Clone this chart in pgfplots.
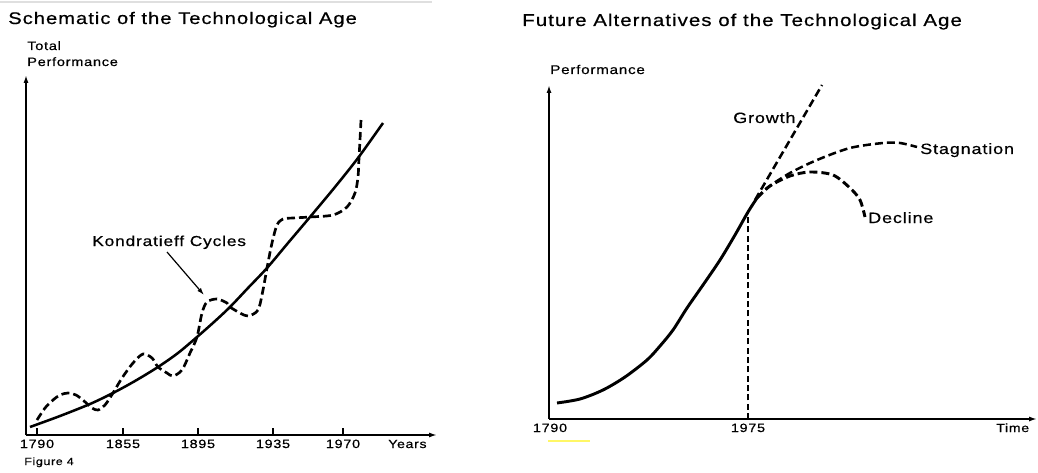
\documentclass[border=0pt]{standalone}
\usepackage{fontspec}
\setmainfont{Liberation Sans}[FakeStretch=1.2,LetterSpace=6,FakeBold=0.6]
\usepackage{pgfplots}
\pgfplotsset{compat=1.18}
\usetikzlibrary{arrows.meta}

\begin{document}
\begin{tikzpicture}
% ---------------- Left panel ----------------
\begin{axis}[
  at={(19.5pt,27.75pt)}, anchor=south west,
  scale only axis, width=308.25pt, height=270pt,
  xmin=26, xmax=437, ymin=0, ymax=360,
  axis lines*=left,
  axis line style={line width=1.5pt, -{Latex[length=6pt,width=3.8pt]}},
  xtick={37,123,198,273,343}, xticklabels={1790,1855,1895,1935,1970},
  ytick=\empty,
  tick align=inside, major tick length=5.5pt,
  xtick style={line width=1.3pt, black},
  xticklabel style={anchor=base, yshift=-9.75pt, inner sep=0pt, font=\fontsize{9pt}{10pt}\selectfont},
  clip=false,
]
% trend (solid)
\addplot[black, line width=1.9pt, smooth] coordinates {
 (30,8) (60,19) (90,31) (113,42) (135,54) (158,68) (178,82) (197,98)
 (214,113) (230,128) (248,147) (267,167) (288,192) (310,218) (335,248)
 (358,277) (383,312)};
% Kondratieff cycles (dashed)
\addplot[black, line width=2pt, dash pattern=on 6pt off 3pt, smooth, tension=0.5] coordinates {
 (37,15) (45,27) (53,35) (60,40) (68,42) (76,40) (84,34) (92,27) (98,25)
 (105,30) (113,42) (122,57) (133,72) (143,81) (152,77) (158,68) (167,62)
 (173,59) (182,65) (190,82) (197,98) (202,122) (207,133) (217,136)
 (227,132) (230,128) (240,122) (248,119) (258,125) (263,145) (267,167)
 (272,192) (277,210) (283,216) (293,217) (310,218) (333,220) (347,228)
 (355,242) (358,258) (359,277) (360,295) (361,315)};
\draw[line width=0.9pt, -{Latex[length=5.5pt,width=3.5pt]}] (axis cs:167,183) -- (axis cs:204,140);
\end{axis}

% ---------------- Right panel ----------------
\begin{axis}[
  at={(411.75pt,39.75pt)}, anchor=south west,
  scale only axis, width=366pt, height=250.5pt,
  xmin=549, xmax=1037, ymin=0, ymax=334,
  axis lines*=left,
  axis line style={line width=1.5pt, -{Latex[length=6pt,width=3.8pt]}},
  xtick={550,748}, xticklabels={1790,1975},
  ytick=\empty,
  major tick length=0pt,
  xticklabel style={anchor=base, yshift=-9.75pt, inner sep=0pt, font=\fontsize{9pt}{10pt}\selectfont},
  clip=false,
]
\addplot[black, line width=2.2pt, smooth] coordinates {
 (557,16) (580,20) (603,29) (625,42) (647,59) (660,73) (673,89) (687,111)
 (703,134) (720,159) (735,184) (748,207) (757,221)};
% growth
\addplot[black, line width=1.9pt, dash pattern=on 6pt off 3pt] coordinates {
 (755,219) (822,334)};
% stagnation
\addplot[black, line width=1.9pt, dash pattern=on 6pt off 3pt, smooth] coordinates {
 (757,221) (767,231) (790,246) (817,259) (850,271) (883,276) (900,276) (917,272)};
% decline
\addplot[black, line width=2.2pt, dash pattern=on 6pt off 3pt, smooth] coordinates {
 (757,221) (770,233) (790,243) (810,247) (833,244) (850,231) (860,219) (865,202)};
% 1975 marker
\addplot[black, line width=1.1pt, dash pattern=on 4.5pt off 2.5pt] coordinates {
 (748,0) (748,207)};
\end{axis}

% ---------------- Texts (pixel coordinates) ----------------
\begin{scope}[x=0.75pt,y=-0.75pt,shift={(0,354pt)}]
\draw[gray!25, line width=1.5pt] (0,2) -- (432,2);
\draw[yellow!60, line width=1.8pt] (548,441) -- (590,441);
\node[anchor=base west, inner sep=0pt, font=\fontsize{12.6pt}{15pt}\selectfont] at (8,24) {Schematic of the Technological Age};
\node[anchor=base west, inner sep=0pt, font=\fontsize{12.8pt}{15pt}\selectfont] at (522,26) {Future Alternatives of the Technological Age};
\node[anchor=base west, inner sep=0pt, font=\fontsize{9.1pt}{11pt}\selectfont] at (27,50) {Total};
\node[anchor=base west, inner sep=0pt, font=\fontsize{9.1pt}{11pt}\selectfont] at (27,66) {Performance};
\node[anchor=base west, inner sep=0pt, font=\fontsize{9.5pt}{11pt}\selectfont] at (550,74) {Performance};
\node[anchor=base west, inner sep=0pt, font=\fontsize{8.8pt}{10pt}\selectfont] at (388,448) {Years};
\node[anchor=base west, inner sep=0pt, font=\fontsize{8.8pt}{10pt}\selectfont] at (996,432) {Time};
\node[anchor=base west, inner sep=0pt, font=\fontsize{7.8pt}{10pt}\selectfont] at (24,465) {Figure 4};
\node[anchor=base west, inner sep=0pt, font=\fontsize{10.8pt}{13pt}\selectfont] at (92,246) {Kondratieff Cycles};
\node[anchor=base west, inner sep=0pt, font=\fontsize{11.2pt}{13pt}\selectfont] at (733,123) {Growth};
\node[anchor=base west, inner sep=0pt, font=\fontsize{11.2pt}{13pt}\selectfont] at (920,154) {Stagnation};
\node[anchor=base west, inner sep=0pt, font=\fontsize{11.2pt}{13pt}\selectfont] at (868,223) {Decline};
\end{scope}
\pgfresetboundingbox
\useasboundingbox (0,0) rectangle (778.5pt,354pt);
\end{tikzpicture}
\end{document}
